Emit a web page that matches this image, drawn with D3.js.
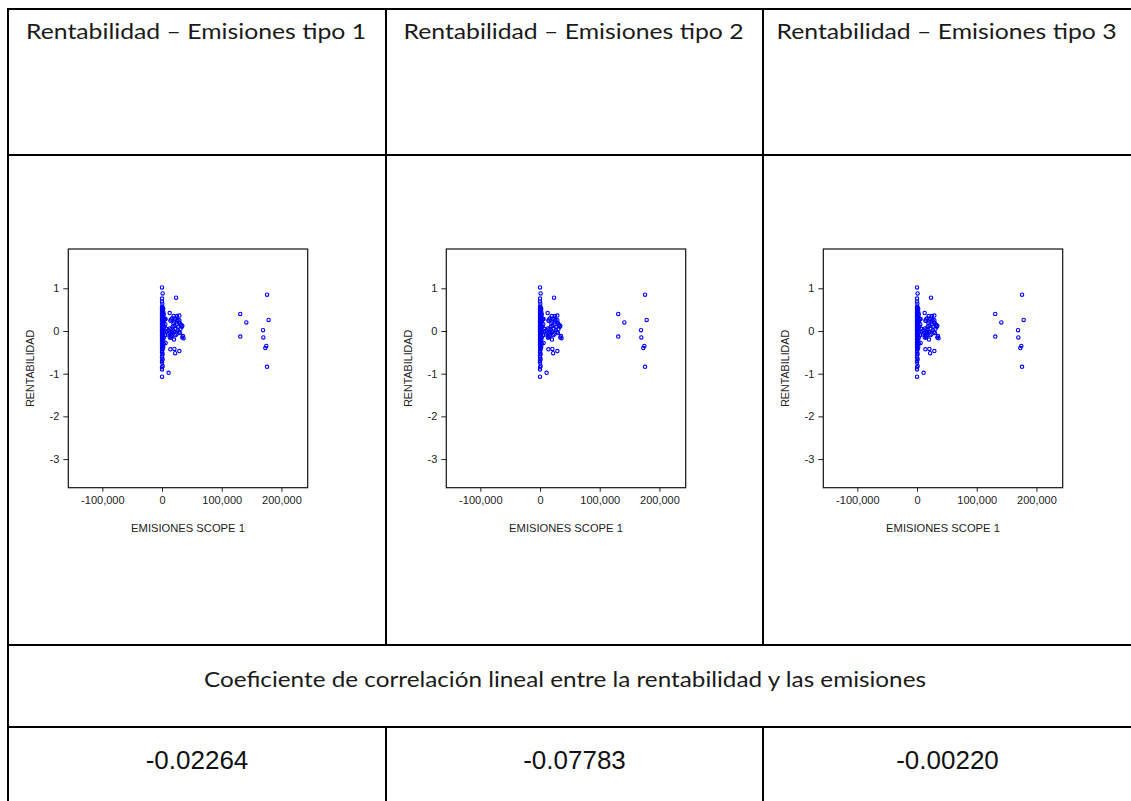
<!DOCTYPE html>
<html>
<head>
<meta charset="utf-8">
<script src="https://cdn.jsdelivr.net/npm/d3@7"></script>
<style>
  html, body { margin: 0; padding: 0; background: #fff; }
  svg { display: block; }
  .head { font-family: Lato, "Open Sans", sans-serif; font-weight: 400; fill: #1a1a1a; }
  .num { font-family: "Liberation Sans", Arial, sans-serif; fill: #111; }
  .axis text { font-family: "Liberation Sans", Arial, sans-serif; font-size: 11px; fill: #222; }
  .axis-title { font-family: "Liberation Sans", Arial, sans-serif; font-size: 10.7px; fill: #222; }
</style>
</head>
<body>
<svg id="chart"></svg>
<script>
const width = 1131;
const height = 801;

// table contents
const panelTitles = [
  "Rentabilidad \u2013 Emisiones tipo 1",
  "Rentabilidad \u2013 Emisiones tipo 2",
  "Rentabilidad \u2013 Emisiones tipo 3"
];
const corrTitle = "Coeficiente de correlación lineal entre la rentabilidad y las emisiones";
const corrValues = ["-0.02264", "-0.07783", "-0.00220"];

// scatter axes
const xTitle = "EMISIONES SCOPE 1";
const yTitle = "RENTABILIDAD";
const xTicks = [-100000, 0, 100000, 200000];
const yTicks = [-3, -2, -1, 0, 1];

// emissions (thousands)
const emisiones = [
  0, 1, 0, 0, 0.5,
  0, 1, 0, 2, 0, 1, 0, 2, 0, 1, 0, 3, 0, 1, 0, 2, 0, 1, 4, 0, 2, 0, 1, 0, 3, 0, 1, 0,
  2, 0, 1, 0, 3, 0, 1, 0, 2, 0, 1, 0, 3, 0, 1, 0, 2, 0, 1, 0, 3, 0, 1, 0, 2, 0, 1, 0,
  3, 0, 1, 0, 2, 0, 1, 0, 0, 1, 0, 0, 1, 0, 0, 1, 0, 0, 0,
  5.5, 6, 4.5, 5, 6, 4, 7,
  23.5, 12.8, 19.5, 29, 15, 14, 17, 20, 22, 24, 26, 28, 30, 32, 34, 25, 21, 18, 16, 13,
  11, 12, 14, 16, 18, 20, 23, 26, 28, 31, 33, 27, 24, 22, 20, 13, 15, 35, 36, 34, 30,
  29, 25, 19, 17, 10, 9,
  14, 20.7, 22, 29, 11,
  131, 141.2, 131, 175.9, 178.6, 169.2, 169.7, 174.7, 173, 175.9
];

// rentabilidad
const rentabilidad = [
  1.02, 0.88, 0.76, 0.69, 0.64,
  0.57, 0.55, 0.53, 0.52, 0.50, 0.48, 0.47, 0.45, 0.43, 0.42, 0.40, 0.39, 0.37, 0.36, 0.34, 0.33, 0.31, 0.30, 0.29, 0.28, 0.26, 0.25, 0.23, 0.22, 0.21, 0.19, 0.18, 0.16,
  0.15, 0.13, 0.12, 0.10, 0.09, 0.07, 0.06, 0.04, 0.03, 0.01, 0.00, -0.02, -0.03, -0.05, -0.06, -0.08, -0.09, -0.11, -0.12, -0.14, -0.15, -0.17, -0.18, -0.20, -0.22, -0.24, -0.26, -0.28,
  -0.30, -0.32, -0.34, -0.36, -0.38, -0.40, -0.43, -0.46, -0.50, -0.54, -0.58, -0.62, -0.66, -0.70, -0.74, -0.82, -0.85, -0.90, -1.07,
  0.16, 0.28, 0.27, -0.10, -0.28, 0.10, 0.05,
  0.78, 0.42, 0.35, 0.36, 0.27, 0.24, 0.30, 0.22, 0.28, 0.31, 0.25, 0.20, 0.18, 0.14, 0.12, 0.15, 0.12, 0.10, 0.05, 0.06,
  0.02, -0.05, -0.08, -0.12, -0.05, -0.02, 0.05, 0.02, -0.03, 0.05, 0.10, 0.10, -0.08, -0.10, -0.20, -0.15, -0.15, -0.12, -0.17, -0.15, -0.05,
  0.25, 0.35, 0.18, -0.02, -0.08, 0.00,
  -0.43, -0.42, -0.52, -0.47, -0.98,
  0.40, 0.20, -0.13, 0.85, 0.26, 0.02, -0.15, -0.35, -0.40, -0.84
];

const points = emisiones.map((e, i) => ({ x: e * 1000, y: rentabilidad[i] }));

// table grid
const colX = [8, 386, 763, 1132];
const rowY = [9, 155, 645, 727, 802];

const svg = d3.select("#chart").attr("width", width).attr("height", height);

const grid = svg.append("g").attr("stroke", "#000").attr("stroke-width", 2);
rowY.slice(0, 4).forEach((y) => {
  grid.append("line").attr("x1", colX[0] - 1).attr("x2", colX[3]).attr("y1", y).attr("y2", y);
});
grid.append("line").attr("x1", colX[0]).attr("x2", colX[0]).attr("y1", rowY[0]).attr("y2", rowY[4]);
grid.append("line").attr("x1", colX[3]).attr("x2", colX[3]).attr("y1", rowY[0]).attr("y2", rowY[4]);
[1, 2].forEach((c) => {
  grid.append("line").attr("x1", colX[c]).attr("x2", colX[c]).attr("y1", rowY[0]).attr("y2", rowY[2]);
  grid.append("line").attr("x1", colX[c]).attr("x2", colX[c]).attr("y1", rowY[3]).attr("y2", rowY[4]);
});

// header texts
panelTitles.forEach((t, i) => {
  svg
    .append("text")
    .attr("class", "head")
    .attr("x", (colX[i] + colX[i + 1]) / 2 - 1)
    .attr("y", 39)
    .attr("text-anchor", "middle")
    .attr("font-size", 21)
    .attr("textLength", 340)
    .attr("lengthAdjust", "spacingAndGlyphs")
    .text(t);
});

svg
  .append("text")
  .attr("class", "head")
  .attr("x", 565)
  .attr("y", 687)
  .attr("text-anchor", "middle")
  .attr("font-size", 21)
  .attr("textLength", 722)
  .attr("lengthAdjust", "spacingAndGlyphs")
  .text(corrTitle);

corrValues.forEach((v, i) => {
  svg
    .append("text")
    .attr("class", "num")
    .attr("x", (colX[i] + colX[i + 1]) / 2)
    .attr("y", 769)
    .attr("text-anchor", "middle")
    .attr("font-size", 26)
    .text(v);
});

// scatter panels
const plotW = 239.4;
const plotH = 238.7;
const plotTop = 249;
const x = d3.scaleLinear().domain([-157000, 244000]).range([0, plotW]);
const y = d3.scaleLinear().domain([-3.67, 1.92]).range([plotH, 0]);
const fmtX = (d) => d3.format(",")(d).replace("\u2212", "-");
const fmtY = (d) => d3.format("d")(d).replace("\u2212", "-");

[0, 1, 2].forEach((i) => {
  const g = svg.append("g").attr("transform", `translate(${colX[i] + 60.3},${plotTop})`);

  g.append("g")
    .attr("class", "axis")
    .call(d3.axisLeft(y).tickValues(yTicks).tickSize(5).tickPadding(4).tickFormat(fmtY))
    .call((a) => a.select(".domain").remove())
    .call((a) => a.selectAll("line").attr("stroke", "#222"));

  g.append("g")
    .attr("class", "axis")
    .attr("transform", `translate(0,${plotH})`)
    .call(d3.axisBottom(x).tickValues(xTicks).tickSize(4).tickPadding(5).tickFormat(fmtX))
    .call((a) => a.select(".domain").remove())
    .call((a) => a.selectAll("line").attr("stroke", "#222"));

  g.append("rect")
    .attr("width", plotW)
    .attr("height", plotH)
    .attr("fill", "none")
    .attr("stroke", "#111")
    .attr("stroke-width", 1.2);

  g.append("g")
    .selectAll("circle")
    .data(points)
    .join("circle")
    .attr("cx", (d) => x(d.x))
    .attr("cy", (d) => y(d.y))
    .attr("r", 1.7)
    .attr("fill", "none")
    .attr("stroke", "#0000ff")
    .attr("stroke-width", 1.1);

  g.append("text")
    .attr("class", "axis-title")
    .attr("transform", "rotate(-90)")
    .attr("x", -plotH / 2)
    .attr("y", -34)
    .attr("text-anchor", "middle")
    .text(yTitle);

  g.append("text")
    .attr("class", "axis-title")
    .attr("x", plotW / 2)
    .attr("y", plotH + 44.6)
    .attr("text-anchor", "middle")
    .style("font-size", "11.2px")
    .text(xTitle);
});
</script>
</body>
</html>
